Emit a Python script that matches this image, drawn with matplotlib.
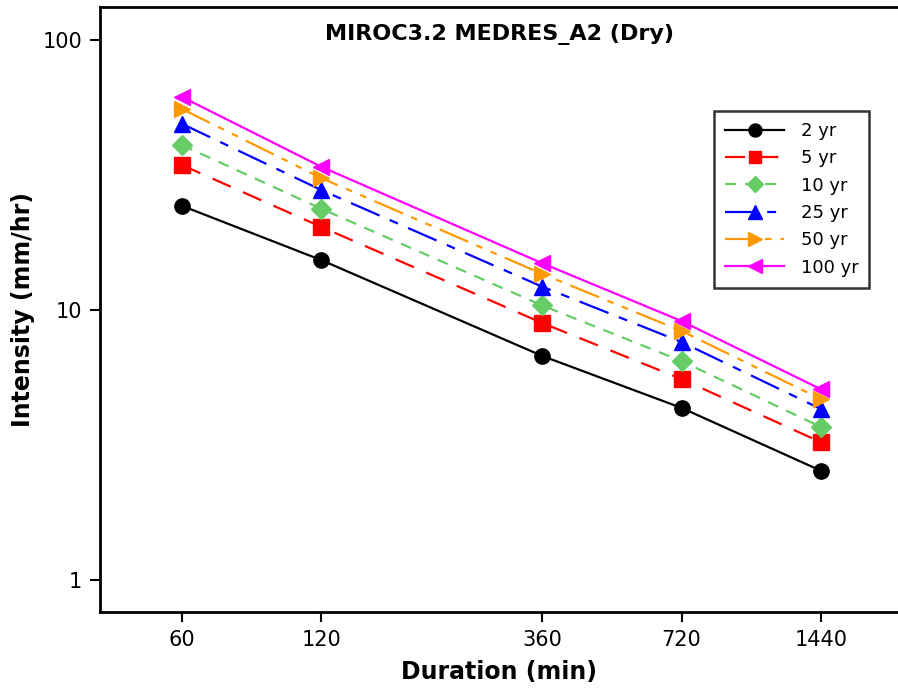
import matplotlib
matplotlib.use("Agg")
import matplotlib.pyplot as plt
from matplotlib.ticker import FixedLocator, FixedFormatter, NullLocator

plt.rcParams['font.family'] = ['Verdana', 'DejaVu Sans']

durations = [60, 120, 360, 720, 1440]
labels = ["2 yr", "5 yr", "10 yr", "25 yr", "50 yr", "100 yr"]
i_2 = [24.3, 15.3, 6.76, 4.34, 2.54]
i_5 = [34.4, 20.3, 8.95, 5.55, 3.24]
i_10 = [40.8, 23.7, 10.4, 6.47, 3.69]
i_25 = [48.9, 27.8, 12.2, 7.61, 4.30]
i_50 = [55.5, 30.8, 13.6, 8.36, 4.68]
i_100 = [61.5, 33.9, 14.9, 9.10, 5.09]
series = [i_2, i_5, i_10, i_25, i_50, i_100]

colors = ["black", "#ff0000", "#66cc66", "#0000ff", "#ff9900", "#ff00ff"]
markers = ["o", "s", "D", "^", ">", "<"]
msizes = [11, 11, 10, 12, 12, 12]
styles = ["-", (0, (9, 6)), (0, (5, 4)), (0, (14, 5, 4, 5)), (0, (14, 4, 3, 4, 3, 4)), "-"]


def main():
    fig = plt.figure(figsize=(8.98, 6.94), dpi=100)
    ax = fig.add_axes([0.1114, 0.118, 0.8886, 0.872])

    for vals, lab, c, m, ms, ls in zip(series, labels, colors, markers, msizes, styles):
        ax.plot(durations, vals, color=c, marker=m, markersize=ms, linestyle=ls,
                linewidth=1.6, label=lab, markeredgecolor=c)

    ax.set_xscale("log")
    ax.set_yscale("log")
    ax.set_xlim(39.9, 2113)
    ax.set_ylim(0.761, 132.5)

    ax.xaxis.set_major_locator(FixedLocator(durations))
    ax.xaxis.set_major_formatter(FixedFormatter([str(d) for d in durations]))
    ax.xaxis.set_minor_locator(NullLocator())
    ax.yaxis.set_major_locator(FixedLocator([1, 10, 100]))
    ax.yaxis.set_major_formatter(FixedFormatter(["1", "10", "100"]))
    ax.yaxis.set_minor_locator(NullLocator())

    ax.tick_params(axis="both", direction="out", length=7, width=1.5, labelsize=15, pad=6)
    for s in ["left", "bottom", "top"]:
        ax.spines[s].set_linewidth(2)
    ax.spines["right"].set_visible(False)

    ax.set_xlabel("Duration (min)", fontsize=17, fontweight="bold", labelpad=7)
    ax.set_ylabel("Intensity (mm/hr)", fontsize=17, fontweight="bold", labelpad=5)
    ax.set_title("MIROC3.2 MEDRES_A2 (Dry)", fontsize=16, fontweight="bold",
                 y=0.932)

    leg = ax.legend(loc="upper left", bbox_to_anchor=(0.7694, 0.828), fontsize=13,
                    frameon=True, fancybox=False, edgecolor="black",
                    borderaxespad=0, handlelength=3.3, borderpad=0.6,
                    labelspacing=0.52, handletextpad=0.9, markerscale=0.85)
    leg.get_frame().set_linewidth(1.8)

    fig.savefig("out.png", dpi=100)
    plt.close(fig)


if __name__ == "__main__":
    main()
